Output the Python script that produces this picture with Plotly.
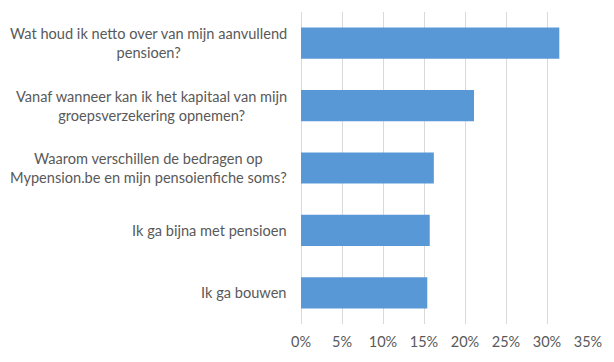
import plotly.graph_objects as go

categories = [
    "Ik ga bouwen",
    "Ik ga bijna met pensioen",
    "Waarom verschillen de bedragen op<br>Mypension.be en mijn pensoienfiche soms?",
    "Vanaf wanneer kan ik het kapitaal van mijn<br>groepsverzekering opnemen?",
    "Wat houd ik netto over van mijn aanvullend<br>pensioen?",
]
values = [0.154, 0.157, 0.162, 0.211, 0.315]
tick_vals = [0, 0.05, 0.10, 0.15, 0.20, 0.25, 0.30, 0.35]
tick_text = ["0%", "5%", "10%", "15%", "20%", "25%", "30%", "35%"]

FONT = "Lato, 'Open Sans', sans-serif"
GREY = "#595959"

fig = go.Figure(
    go.Bar(
        x=values,
        y=categories,
        orientation="h",
        marker=dict(color="#5898d6", line=dict(width=0)),
        width=0.5,
        hoverinfo="x+y",
    )
)

annotations = [
    dict(
        x=0, xref="paper", y=c, yref="y",
        text=c, showarrow=False,
        xanchor="right", yanchor="middle", align="center",
        xshift=-12,
        font=dict(family=FONT, size=14.6, color=GREY),
    )
    for c in categories
]

fig.update_layout(
    width=614, height=362,
    margin=dict(l=301, r=26, t=12, b=35),
    paper_bgcolor="white", plot_bgcolor="white",
    showlegend=False,
    annotations=annotations,
    xaxis=dict(
        range=[0, 0.35],
        tickvals=tick_vals, ticktext=tick_text,
        showgrid=True, gridcolor="#d9d9d9", gridwidth=1,
        zeroline=True, zerolinecolor="#d9d9d9", zerolinewidth=1,
        showline=False, ticks="",
        tickfont=dict(family=FONT, size=14.5, color=GREY),
        ticklabelstandoff=7,
        fixedrange=True,
    ),
    yaxis=dict(
        categoryorder="array", categoryarray=categories,
        showticklabels=False, showgrid=False, zeroline=False, showline=False,
        ticks="", range=[-0.5, 4.5], fixedrange=True,
    ),
)

fig.write_html(
    "out.html",
    config={"displayModeBar": False},
    post_script="document.body.style.margin='0';document.body.style.padding='0';",
)
